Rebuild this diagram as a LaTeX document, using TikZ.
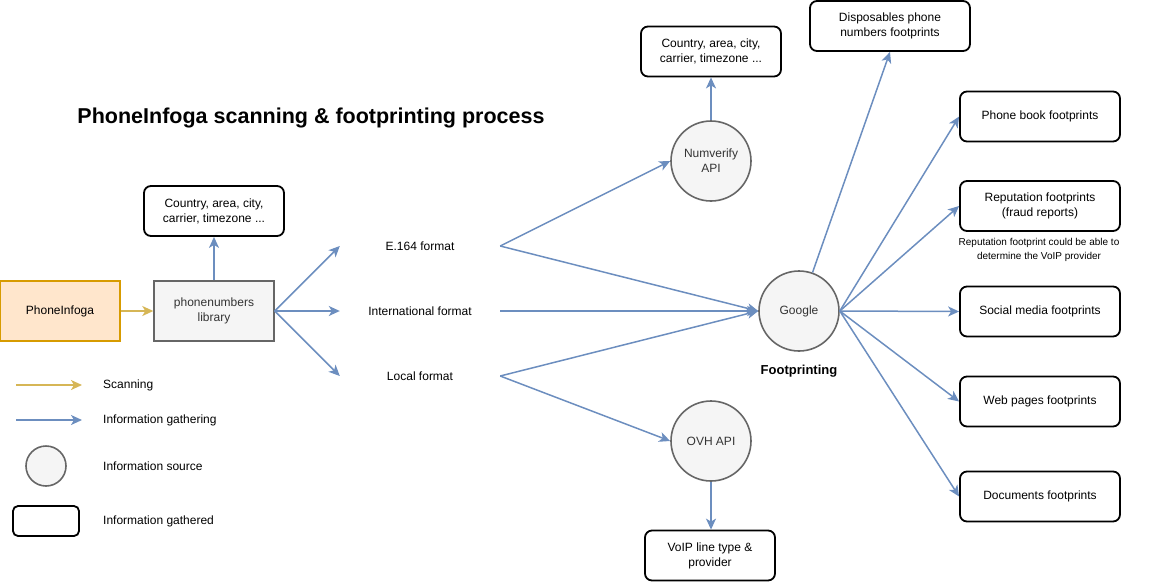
\documentclass[tikz,border=0pt]{standalone}
\usepackage{fontspec}
\setmainfont{Liberation Sans}
\usetikzlibrary{arrows.meta}
\definecolor{blu}{HTML}{6C8EBF}
\definecolor{gold}{HTML}{D6B656}
\definecolor{orgdraw}{HTML}{D79B00}
\definecolor{orgfill}{HTML}{FFE6CC}
\definecolor{greydraw}{HTML}{666666}
\definecolor{greyfill}{HTML}{F5F5F5}
\definecolor{greytext}{HTML}{333333}
\newcommand\fsm{\fontsize{12}{15}\selectfont}
\begin{document}
\begin{tikzpicture}[x=1pt,y=-1pt,
  info/.style={draw=black, line width=1.8pt, rounded corners=7pt, fill=white, minimum width=140pt, minimum height=50pt, align=center, font=\fsm, inner sep=2pt},
  src/.style={circle, draw=greydraw, fill=greyfill, line width=1.6pt, minimum size=80pt, inner sep=0pt, text=greytext, align=center, font=\fsm},
  lbl/.style={minimum width=160pt, inner sep=0pt, font=\fsm},
  gather/.style={draw=blu, line width=1.5pt, -{Stealth[length=11pt,width=10pt,inset=3pt]}},
  scan/.style={draw=gold, line width=1.5pt, -{Stealth[length=11pt,width=10pt,inset=3pt]}},
  legtext/.style={anchor=west, inner sep=0pt, font=\fsm}]
\useasboundingbox (0,0) rectangle (1152,582);

\node[font=\bfseries\fontsize{21.5}{25}\selectfont] (title) at (311,118) {PhoneInfoga scanning \& footprinting process};

\node[draw=orgdraw, fill=orgfill, line width=1.2pt, minimum width=120pt, minimum height=60pt, font=\fsm] (pi) at (60,311) {PhoneInfoga};
\node[draw=greydraw, fill=greyfill, text=greytext, line width=1.4pt, minimum width=120pt, minimum height=60pt, align=center, font=\fsm] (lib) at (214,311) {phonenumbers\\library};
\node[info] (libinfo) at (214,211) {Country, area, city,\\carrier, timezone ...};

\node[lbl] (e164) at (420,246) {E.164 format};
\node[lbl] (intl) at (420,311) {International format};
\node[lbl] (loc) at (420,376) {Local format};

\node[src] (nv) at (711,161) {Numverify\\API};
\node[info] (nvinfo) at (711,51.5) {Country, area, city,\\carrier, timezone ...};
\node[src] (ovh) at (711,441) {OVH API};
\node[info, minimum width=130pt] (voip) at (710,555.5) {VoIP line type \&\\provider};
\node[src] (g) at (799,311) {Google};
\node[font=\bfseries\fontsize{13}{15}\selectfont] (fp) at (799,371) {Footprinting};

\node[info, minimum width=160pt] (disp) at (890,26) {Disposables phone\\numbers footprints};
\node[info, minimum width=160pt] (pb) at (1040,116.5) {Phone book footprints};
\node[info, minimum width=160pt] (rep) at (1040,206) {Reputation footprints\\(fraud reports)};
\node[align=center, font=\fontsize{10}{14}\selectfont, inner sep=0pt] (note) at (1039,250) {Reputation footprint could be able to\\determine the VoIP provider};
\node[info, minimum width=160pt] (soc) at (1040,311.5) {Social media footprints};
\node[info, minimum width=160pt] (web) at (1040,401.5) {Web pages footprints};
\node[info, minimum width=160pt] (doc) at (1040,496.5) {Documents footprints};

% connectors
\draw[scan] (pi) -- (lib);
\draw[gather] (lib) -- (libinfo);
\draw[gather] (lib.east) -- (e164.west);
\draw[gather] (lib.east) -- (intl.west);
\draw[gather] (lib.east) -- (loc.west);
\draw[gather] (e164.east) -- (nv.west);
\draw[gather] (e164.east) -- (g.west);
\draw[gather] (intl.east) -- (g.west);
\draw[gather] (loc.east) -- (g.west);
\draw[gather] (loc.east) -- (ovh.west);
\draw[gather] (nv) -- (nvinfo);
\draw[gather] (ovh) -- (ovh |- voip.north);
\draw[gather] (g) -- (disp.south);
\draw[gather] (g.east) -- (pb.west);
\draw[gather] (g.east) -- (rep.west);
\draw[gather] (g.east) -- (soc.west);
\draw[gather] (g.east) -- (web.west);
\draw[gather] (g.east) -- (doc.west);

% legend
\coordinate (ls1) at (16,385); \coordinate (le1) at (82,385);
\draw[scan] (ls1) -- (le1);
\node[legtext] (lt1) at (103,385) {Scanning};
\coordinate (ls2) at (16,420); \coordinate (le2) at (82,420);
\draw[gather] (ls2) -- (le2);
\node[legtext] (lt2) at (103,420) {Information gathering};
\node[src, minimum size=40pt] (lc) at (46,466) {};
\node[legtext] (lt3) at (103,466) {Information source};
\node[info, minimum width=66pt, minimum height=30pt, rounded corners=5pt] (lr) at (46,521) {};
\node[legtext] (lt4) at (103,521) {Information gathered};
\end{tikzpicture}
\end{document}
